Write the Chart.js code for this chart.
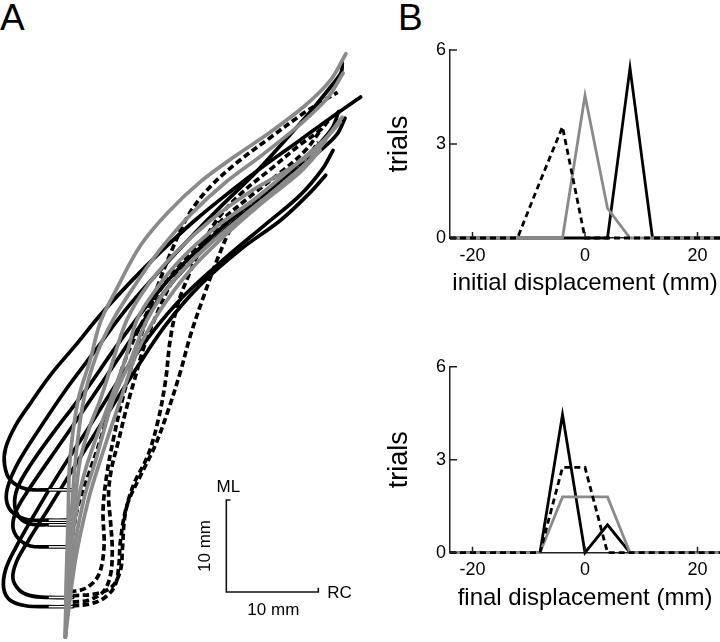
<!DOCTYPE html>
<html>
<head>
<meta charset="utf-8">
<script src="https://cdn.jsdelivr.net/npm/chart.js@4/dist/chart.umd.min.js"></script>
<style>
body { margin: 0; background: #fff; width: 720px; height: 642px; position: relative; overflow: hidden; font-family: "Liberation Sans", Arial, sans-serif; }
canvas { position: absolute; }
.panel { position: absolute; font-size: 37px; line-height: 1; color: #000; }
</style>
</head>
<body>
<div class="panel" style="left:0;top:-1px">A</div>
<div class="panel" style="left:398px;top:-1px">B</div>
<canvas id="trajChart" width="368" height="642" style="left:0;top:0"></canvas>
<canvas id="initChart" width="340" height="280" style="left:380px;top:30px"></canvas>
<canvas id="finalChart" width="340" height="296" style="left:380px;top:346px"></canvas>
<script>
// ------------------ Dados ------------------
// A: trajectories in mm (x = RC, y = ML), origin at the start point
const grayTrials = [
    [[0,0],[0.1,6.2],[0.3,12.7],[0.5,19.2],[1.4,25.8],[2.7,30.1],[3.8,34.2],[5.4,37.5],[8.2,42.6],[11.2,46.2],[14.7,49.5],[18.5,52.3],[22.3,54.9],[26.1,57.8],[28.8,60.5],[30.5,63.4]],
    [[0,0],[0.2,7.3],[0.7,13.8],[1.1,19.2],[2.0,25.8],[3.4,30.7],[5.2,34.5],[7.6,38.3],[10.3,42.1],[13.6,45.9],[17.4,49.4],[21.4,52.4],[25.5,55.7],[28.5,58.6],[30.2,61.3]],
    [[0,0],[0.4,7.3],[1.0,13.8],[1.6,19.2],[2.7,23.0],[3.8,25.8],[5.2,30.1],[6.7,34.5],[9.0,38.3],[12.0,41.8],[15.8,45.3],[20.1,48.4],[24.5,51.0],[27.7,53.5],[30.1,56.5]],
    [[0,0],[0.5,8.4],[1.4,14.9],[2.5,19.2],[4.9,25.8],[6.5,30.1],[7.8,34.5],[9.8,37.7],[12.5,41.0],[16.3,44.5],[20.7,47.7],[25.0,51.3],[28.3,54.2],[29.9,56.0]],
    [[0,0],[0.8,8.4],[2.0,14.9],[3.3,19.2],[5.2,25.8],[7.1,30.1],[8.9,34.5],[11.4,38.3],[14.7,41.8],[19.0,45.5],[23.4,49.1],[26.6,51.9],[28.3,54.0]],
    [[0,0],[1.1,8.4],[2.5,14.9],[3.8,19.2],[6.0,25.8],[7.9,31.2],[10.3,35.5],[13.6,39.9],[17.4,43.7],[21.4,47.2],[25.5,50.5],[27.7,52.9]]
];
const blackTrials = [
    [[0.8,16.0],[-1.8,16.0],[-4.3,16.1],[-6.0,17.1],[-6.6,18.7],[-6.5,20.5],[-5.4,23.0],[-3.8,25.4],[-1.6,28.5],[1.1,31.7],[3.8,35.0],[7.1,38.6],[10.3,41.8],[14.1,45.3],[17.9,48.4],[21.7,51.3],[25.5,54.0],[28.8,56.4],[32.1,58.7]],
    [[0.8,12.7],[-1.8,12.7],[-4.3,12.8],[-5.8,13.6],[-6.4,14.9],[-6.2,16.5],[-5.1,19.0],[-2.9,22.5],[0,26.8],[3.3,31.2],[6.5,35.5],[9.8,39.3],[13.4,43.2],[17.1,47.0],[20.7,50.5],[23.9,54.0],[26.8,57.3],[29.0,60.0],[30.0,61.4],[30.1,62.4]],
    [[0.8,9.8],[-1.8,9.8],[-3.8,9.9],[-5.1,10.7],[-5.7,12.0],[-5.3,13.8],[-4.0,16.0],[-1.6,19.5],[1.6,24.1],[4.9,29.0],[8.2,33.9],[11.4,38.3],[15.2,42.3],[19.6,46.2],[23.9,49.7],[27.5,52.7],[29.5,54.6],[30.4,56.4]],
    [[0.8,3.3],[-1.8,3.3],[-4.3,3.4],[-6.0,4.0],[-6.7,5.3],[-6.5,7.3],[-5.4,9.7],[-3.6,12.9],[-0.8,17.6],[2.5,22.7],[5.8,27.9],[9.2,32.8],[13.0,37.2],[17.4,41.2],[21.7,44.8],[25.5,48.0],[27.9,50.8],[29.1,52.9]],
    [[0.8,4.3],[-1.8,4.3],[-3.8,4.5],[-5.0,5.1],[-5.7,6.4],[-5.3,8.2],[-4.0,10.5],[-1.8,14.0],[1.1,18.7],[4.3,23.8],[7.6,29.0],[10.9,33.9],[14.7,38.3],[19.0,42.1],[23.4,45.3],[26.6,48.3],[28.3,50.2]],
    [[0.8,12.2],[-1.8,12.2],[-3.8,12.3],[-4.9,12.9],[-5.5,14.3],[-5.2,16.2],[-3.8,18.7],[-1.1,22.5],[2.2,26.8],[5.4,31.4],[8.7,35.8],[12.0,39.7],[15.8,43.4],[19.9,47.0],[23.9,50.2],[27.2,53.2],[29.0,55.3],[29.7,57.1]]
];
const dashedTrials = [
    [[0.8,4.5],[3.3,4.7],[5.1,5.5],[6.0,7.3],[6.2,9.5],[6.5,13.3],[7.4,16.5],[9.0,19.8],[10.1,23.6],[10.9,27.9],[11.4,32.3],[12.2,36.1],[13.4,39.3],[14.9,42.6],[16.6,45.5],[19.2,48.3],[22.5,51.0],[25.5,53.5],[27.7,55.1],[28.8,56.4]],
    [[0.8,3.4],[2.7,3.6],[4.3,4.3],[5.4,5.6],[5.8,7.6],[6.0,10.5],[6.7,14.3],[8.2,17.6],[9.8,20.9],[11.2,24.7],[12.5,28.8],[13.6,32.8],[15.1,37.2],[16.7,41.5],[18.3,44.9],[20.7,47.5],[23.7,49.9],[26.1,51.9],[27.5,53.8]],
    [[0.5,4.9],[2.2,5.3],[3.6,6.7],[4.2,9.7],[4.1,13.8],[4.5,17.6],[5.2,21.4],[6.2,25.8],[7.4,30.1],[8.7,34.2],[10.1,38.3],[11.6,42.1],[13.4,45.9],[15.7,48.9],[18.7,51.6],[22.3,54.3],[25.7,56.8],[28.2,58.4],[29.6,59.2]],
    [[0.8,3.8],[2.5,4.0],[4.1,4.9],[4.9,6.7],[5.1,9.5],[4.9,12.7],[4.7,15.4],[5.0,18.2],[5.8,21.4],[6.6,24.7],[7.5,27.9],[8.6,31.7],[9.9,35.0],[11.6,38.6],[13.9,41.8],[16.8,45.1],[20.1,47.9],[23.4,50.5],[26.1,52.9],[27.9,55.3]],
    [[0.3,3.5],[0.3,5.7],[0.4,8.4],[0.8,11.1],[1.4,14.3],[2.5,17.6],[3.8,21.4],[5.1,25.8],[6.5,30.1],[8.2,33.9],[10.3,37.7],[13.0,41.0],[16.3,44.0],[20.1,47.0],[23.9,49.7],[26.6,51.9]]
];
const scaleBarOrigin = [17.5, 4.9];
const scaleBarLength = 10; // mm

// B: histograms
const binCenters = [-24, -20, -16, -12, -8, -4, 0, 4, 8, 12, 16, 20, 24];
const initDashed = [0, 0, 0, 0, 1.8, 3.55, 0, 0, 0, 0, 0, 0, 0];
const initGray   = [0, 0, 0, 0, 0, 0, 4.55, 0.95, 0, 0, 0, 0, 0];
const initBlack  = [0, 0, 0, 0, 0, 0, 0, 0, 5.42, 0, 0, 0, 0];
const finalDashed = [0, 0, 0, 0, 0, 2.75, 2.75, 0, 0, 0, 0, 0, 0];
const finalGray   = [0, 0, 0, 0, 0, 1.8, 1.8, 1.8, 0, 0, 0, 0, 0];
const finalBlack  = [0, 0, 0, 0, 0, 4.45, 0, 0.9, 0, 0, 0, 0, 0];
const xTickValues = [-20, 0, 20];
const yTickValues = [0, 3, 6];

const FONT = '"Liberation Sans", Arial, sans-serif';
const GRAY = '#8a8a8a';

// ------------------ A: trajetorias ------------------
const toPts = p => p.map(([x, y]) => ({x, y}));
const trajLine = (p, color, extra) => Object.assign({
    data: toPts(p), showLine: true, borderColor: color, borderWidth: 3.7,
    tension: 0.35, pointRadius: 0, clip: false,
    borderCapStyle: 'round', borderJoinStyle: 'round'
}, extra || {});

const trajSets = [];
grayTrials.forEach(p => trajSets.push(trajLine(p, GRAY)));
// thin double-line look at the start of the black trials
blackTrials.forEach(p => trajSets.push(trajLine(p.slice(0, 2), '#fff', {borderWidth: 1.5, tension: 0, borderCapStyle: 'butt'})));
dashedTrials.forEach(p => trajSets.push(trajLine(p, '#000', {borderDash: [6.5, 3.5], borderCapStyle: 'butt'})));
blackTrials.forEach(p => trajSets.push(trajLine(p, '#000')));

const [sbx, sby] = scaleBarOrigin;
trajSets.push({
    data: [{x: sbx + 0.45, y: sby + scaleBarLength}, {x: sbx, y: sby + scaleBarLength}, {x: sbx, y: sby},
           {x: sbx + scaleBarLength, y: sby}, {x: sbx + scaleBarLength, y: sby + 0.45}],
    showLine: true, borderColor: '#111', borderWidth: 1.6, tension: 0, pointRadius: 0, clip: false
});

const scaleBarLabels = {
    id: 'scaleBarLabels',
    afterDraw(chart) {
        const {ctx, scales: {x, y}} = chart;
        const left = x.getPixelForValue(sbx), right = x.getPixelForValue(sbx + scaleBarLength);
        const bottom = y.getPixelForValue(sby), top = y.getPixelForValue(sby + scaleBarLength);
        ctx.save();
        ctx.fillStyle = '#000';
        ctx.font = '17px ' + FONT;
        ctx.textAlign = 'center'; ctx.textBaseline = 'alphabetic';
        ctx.fillText('ML', left + 2, top - 8);
        ctx.fillText('10 mm', (left + right) / 2 + 1, bottom + 23);
        ctx.textAlign = 'left'; ctx.textBaseline = 'middle';
        ctx.fillText('RC', right + 9, bottom + 1);
        ctx.translate(left - 16, (top + bottom) / 2);
        ctx.rotate(-Math.PI / 2);
        ctx.textAlign = 'center'; ctx.textBaseline = 'alphabetic';
        ctx.fillText('10 mm', 0, 0);
        ctx.restore();
    }
};

new Chart(document.getElementById('trajChart'), {
    type: 'scatter',
    data: {datasets: trajSets},
    options: {
        responsive: false, animation: false,
        layout: {padding: 0},
        plugins: {legend: {display: false}, tooltip: {enabled: false}},
        scales: {
            x: {type: 'linear', min: -7.1, max: 32.9, display: false},
            y: {type: 'linear', min: -0.54, max: 69.24, display: false}
        }
    },
    plugins: [scaleBarLabels]
});

// ------------------ B: histogramas ------------------
const inwardTicks = {
    id: 'inwardTicks',
    afterDraw(chart) {
        const {ctx, scales: {x, y}} = chart;
        ctx.save();
        ctx.strokeStyle = '#222'; ctx.lineWidth = 1.5;
        ctx.beginPath();
        y.ticks.forEach(t => { const py = y.getPixelForValue(t.value); ctx.moveTo(x.left, py); ctx.lineTo(x.left + 7, py); });
        x.ticks.forEach(t => { const px = x.getPixelForValue(t.value); ctx.moveTo(px, y.bottom); ctx.lineTo(px, y.bottom - 6); });
        ctx.stroke();
        ctx.restore();
    }
};

function histChart(id, title, dashed, gray, black, padTop, xAxisHeight, titlePad) {
    const pts = vals => binCenters.map((c, i) => ({x: c, y: vals[i]}));
    const line = (vals, color, extra) => Object.assign({
        data: pts(vals), showLine: true, borderColor: color, borderWidth: 2.8,
        tension: 0, pointRadius: 0, clip: false, borderJoinStyle: 'miter'
    }, extra || {});
    return new Chart(document.getElementById(id), {
        type: 'scatter',
        data: {datasets: [
            line(dashed, '#000', {borderDash: [6, 4]}),
            line(gray, GRAY),
            line(black, '#000')
        ]},
        options: {
            responsive: false, animation: false,
            layout: {padding: {top: padTop, left: 0, right: 0, bottom: 0}},
            plugins: {legend: {display: false}, tooltip: {enabled: false}},
            scales: {
                x: {
                    type: 'linear', min: -24, max: 24,
                    afterBuildTicks: s => { s.ticks = xTickValues.map(v => ({value: v})); },
                    afterFit: s => { s.height = xAxisHeight; },
                    grid: {display: false, drawTicks: false},
                    border: {display: true, color: '#222', width: 1.5},
                    ticks: {padding: 7, color: '#000', maxRotation: 0, font: {family: FONT, size: 18}},
                    title: {display: true, text: title, color: '#000', font: {family: FONT, size: 24}, padding: {top: 0, bottom: titlePad}}
                },
                y: {
                    type: 'linear', min: 0, max: 6,
                    afterBuildTicks: s => { s.ticks = yTickValues.map(v => ({value: v})); },
                    afterFit: s => { s.width = 70; },
                    grid: {display: false, drawTicks: false},
                    border: {display: true, color: '#222', width: 1.5},
                    ticks: {padding: 4, color: '#000', font: {family: FONT, size: 18}},
                    title: {display: true, text: 'trials', color: '#000', font: {family: FONT, size: 27}, padding: {top: 3, bottom: 0}}
                }
            }
        },
        plugins: [inwardTicks]
    });
}

histChart('initChart', 'initial displacement (mm)', initDashed, initGray, initBlack, 20, 72, 12.6);
histChart('finalChart', 'final displacement (mm)', finalDashed, finalGray, finalBlack, 20.7, 89.3, 29.6);
</script>
</body>
</html>
